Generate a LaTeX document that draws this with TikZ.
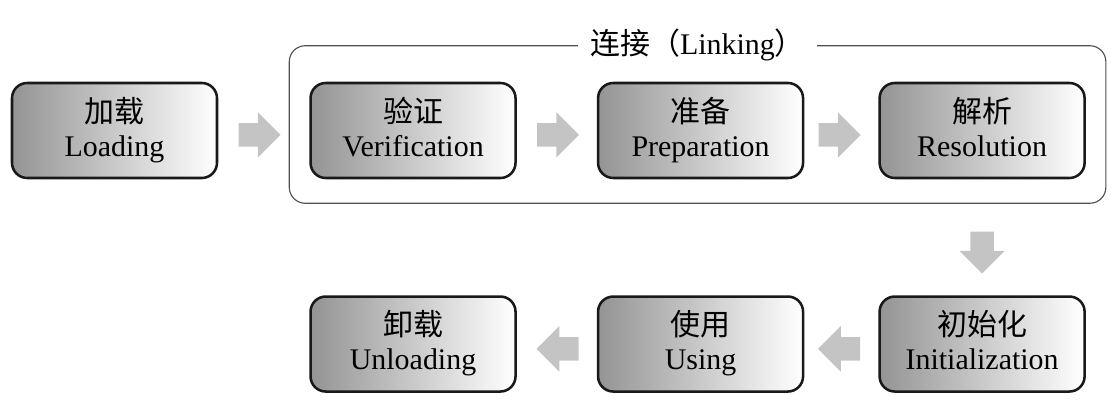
\documentclass[tikz,border=0pt]{standalone}
\usepackage{fontspec}
\setmainfont{Liberation Serif}
\newfontfamily\cjk{Noto Sans CJK SC}
\usetikzlibrary{positioning,fit,shapes.arrows}

\definecolor{arrowgray}{HTML}{C4C4C4}
\definecolor{framegray}{HTML}{505050}

\begin{document}
\begin{tikzpicture}[
  font=\fontsize{21.3pt}{24.2pt}\selectfont,
  node distance=2.9cm and 2cm,
  stage/.style={draw=black!90, line width=1.8pt, rounded corners=0.38cm, align=center, minimum width=5.125cm, minimum height=2.375cm, inner sep=0pt, text depth=0.2cm, left color=black!42, right color=white},
  blockarrow/.style={single arrow, fill=arrowgray, anchor=tail, inner xsep=0pt, inner ysep=0.2875cm, single arrow head extend=0.275cm, minimum height=1.05cm},
  downarrow/.style={blockarrow, shape border rotate=270, inner xsep=0.2875cm, inner ysep=0pt}
]
\useasboundingbox (0,0) rectangle (27.775,-10.4);

% Stages, first row (left to right)
\node[stage] (load) at (2.8625,-3.2625) {{\cjk 加载}\\Loading};
\node[stage, right=2.275cm of load] (verif) {{\cjk 验证}\\Verification};
\node[stage, right=of verif] (prep) {{\cjk 准备}\\Preparation};
\node[stage, right=1.85cm of prep] (resol) {{\cjk 解析}\\Resolution};

% Stages, second row (right to left)
\node[stage, below=of resol] (init) {{\cjk 初始化}\\Initialization};
\node[stage, below=of prep] (use) {{\cjk 使用}\\Using};
\node[stage, below=of verif] (unload) {{\cjk 卸载}\\Unloading};

% Linking frame
\coordinate (linktop) at ([yshift=0.3cm]verif.north west);
\node[draw=framegray, line width=0.8pt, rounded corners=0.4cm, inner xsep=0.5cm, inner ysep=0.6cm,
  fit=(linktop)(resol.south east)] (linking) {};
\node[fill=white, inner xsep=0.3cm, inner ysep=0pt] (linktitle) at (linking.north) {{\cjk 连接（}Linking{\cjk ）}};

% Block arrows between stages
\node[blockarrow] (loadarr) at ([xshift=0.5cm, yshift=-0.11cm]load.east) {};
\node[blockarrow] (verifarr) at ([xshift=0.5cm, yshift=-0.11cm]verif.east) {};
\node[blockarrow] (preparr) at ([xshift=0.35cm, yshift=-0.11cm]prep.east) {};
\node[downarrow] (resolarr) at ([yshift=-1.3cm]resol.south) {};
\node[blockarrow, shape border rotate=180] (initarr) at ([xshift=-0.45cm, yshift=-0.12cm]init.west) {};
\node[blockarrow, shape border rotate=180] (usearr) at ([xshift=-0.45cm, yshift=-0.12cm]use.west) {};

\end{tikzpicture}
\end{document}
